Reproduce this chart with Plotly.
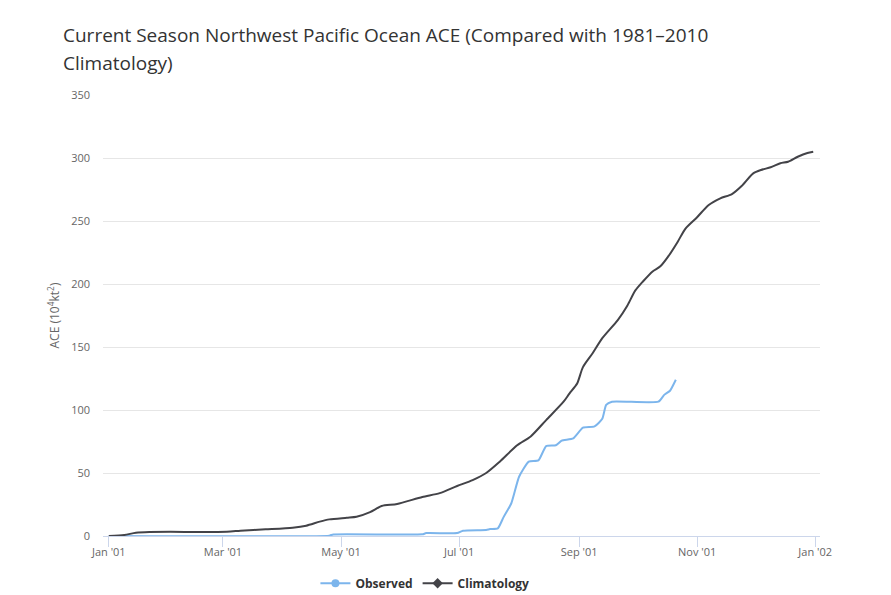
import plotly.graph_objects as go

# ---- data ----
clim_dates = ["2001-01-01", "2001-01-09", "2001-01-15", "2001-01-22", "2001-03-03", "2001-03-10",
              "2001-03-23", "2001-04-06", "2001-04-13", "2001-04-20", "2001-04-25", "2001-05-04",
              "2001-05-09", "2001-05-16", "2001-05-22", "2001-05-30", "2001-06-12", "2001-06-21",
              "2001-06-30", "2001-07-08", "2001-07-15", "2001-07-22", "2001-07-31", "2001-08-07",
              "2001-08-15", "2001-08-24", "2001-08-27", "2001-08-31", "2001-09-03", "2001-09-08",
              "2001-09-13", "2001-09-21", "2001-09-26", "2001-09-30", "2001-10-04", "2001-10-09",
              "2001-10-13", "2001-10-17", "2001-10-22", "2001-10-26", "2001-11-01", "2001-11-07",
              "2001-11-13", "2001-11-19", "2001-11-24", "2001-11-30", "2001-12-04", "2001-12-09",
              "2001-12-14", "2001-12-18", "2001-12-23", "2001-12-28", "2001-12-31"]
clim_values = [0, 0.8, 2.6, 3.2, 3.4, 4.2,
               5.3, 6.6, 8.2, 11.4, 13.2, 14.5,
               15.3, 19, 23.8, 25.4, 31, 34,
               39.7, 44.4, 50, 59, 72, 79,
               92, 106.6, 113, 121, 134, 145,
               157, 171.4, 183, 194.7, 202, 210,
               214, 221.7, 233.6, 244, 253, 262.7,
               268, 271.4, 277.8, 287.8, 290.5, 292.6,
               295.8, 297, 301, 304, 305]

obs_dates = ["2001-01-01", "2001-04-25", "2001-04-27", "2001-06-12", "2001-06-14", "2001-06-30",
             "2001-07-03", "2001-07-15", "2001-07-17", "2001-07-21", "2001-07-24", "2001-07-28",
             "2001-08-01", "2001-08-06", "2001-08-11", "2001-08-15", "2001-08-20", "2001-08-23",
             "2001-08-29", "2001-09-03", "2001-09-09", "2001-09-13", "2001-09-15", "2001-09-18",
             "2001-10-12", "2001-10-15", "2001-10-18", "2001-10-21"]
obs_values = [0, 0.3, 1.2, 1.3, 2.3, 2.3,
              4.2, 4.8, 5.5, 6, 15, 26,
              47, 59, 60, 71.4, 72, 75.7,
              77.5, 86, 87, 93, 104, 106.6,
              106.6, 112, 115.3, 124]

y_ticks = [0, 50, 100, 150, 200, 250, 300, 350]
x_ticks = ["2001-01-01", "2001-03-01", "2001-05-01", "2001-07-01", "2001-09-01", "2001-11-01", "2002-01-01"]
x_labels = ["Jan '01", "Mar '01", "May '01", "Jul '01", "Sep '01", "Nov '01", "Jan '02"]

title_line1 = "Current Season Northwest Pacific Ocean ACE (Compared with 1981–2010"
title_line2 = "Climatology)"

OBS_COLOR = "#7cb5ec"
CLIM_COLOR = "#434348"

fig = go.Figure()
fig.add_trace(go.Scatter(x=obs_dates, y=obs_values, mode="lines", name="Observed",
                         line=dict(color=OBS_COLOR, width=2, shape="spline", smoothing=0.5),
                         showlegend=False))
fig.add_trace(go.Scatter(x=clim_dates, y=clim_values, mode="lines", name="Climatology",
                         line=dict(color=CLIM_COLOR, width=2, shape="spline", smoothing=0.7),
                         showlegend=False))
# legend-only entries with markers
fig.add_trace(go.Scatter(x=[None], y=[None], mode="lines+markers", name="Observed",
                         line=dict(color=OBS_COLOR, width=2),
                         marker=dict(symbol="circle", size=8, color=OBS_COLOR)))
fig.add_trace(go.Scatter(x=[None], y=[None], mode="lines+markers", name="Climatology",
                         line=dict(color=CLIM_COLOR, width=2),
                         marker=dict(symbol="diamond", size=8, color=CLIM_COLOR)))

FONT = "Open Sans, Lato, sans-serif"

# the page body adds an 8px offset, so the figure is 8px smaller and margins shifted
fig.update_layout(
    width=883, height=587,
    margin=dict(l=95, r=71, t=87, b=59, autoexpand=False),
    paper_bgcolor="white", plot_bgcolor="white",
    font=dict(family=FONT, color="#666666", size=11),
    showlegend=True,
    legend=dict(orientation="h", x=0.449, xanchor="center", y=-0.107, yanchor="middle",
                font=dict(size=12, color="#333333", family=FONT, weight="bold"),
                itemwidth=30, traceorder="normal"),
    xaxis=dict(range=["2000-12-29", "2002-01-03 12:00"], tickmode="array",
               tickvals=x_ticks, ticktext=x_labels, showgrid=False, automargin=False,
               showline=True, linecolor="#ccd6eb", linewidth=1,
               ticks="outside", ticklen=10, tickcolor="#ccd6eb", ticklabelstandoff=-4,
               tickfont=dict(size=11, color="#666666"), zeroline=False),
    yaxis=dict(range=[0, 350], tickmode="array", tickvals=y_ticks, automargin=False,
               showgrid=True, gridcolor="#e6e6e6", gridwidth=1, zeroline=False,
               ticks="", ticklabelstandoff=12,
               tickfont=dict(size=11, color="#666666"),
               title=dict(text="ACE (10<sup>4</sup>kt<sup>2</sup>)", standoff=8,
                          font=dict(size=12, color="#666666"))),
    annotations=[
        dict(text=title_line1, xref="paper", yref="paper", x=-(103 - 61) / 717, y=1 + (95 - 35) / 441,
             xanchor="left", yanchor="middle", showarrow=False,
             font=dict(size=19, color="#333333", family=FONT)),
        dict(text=title_line2, xref="paper", yref="paper", x=-(103 - 61) / 717, y=1 + (95 - 63) / 441,
             xanchor="left", yanchor="middle", showarrow=False,
             font=dict(size=19, color="#333333", family=FONT)),
    ],
)

fig.write_html("out.html")
